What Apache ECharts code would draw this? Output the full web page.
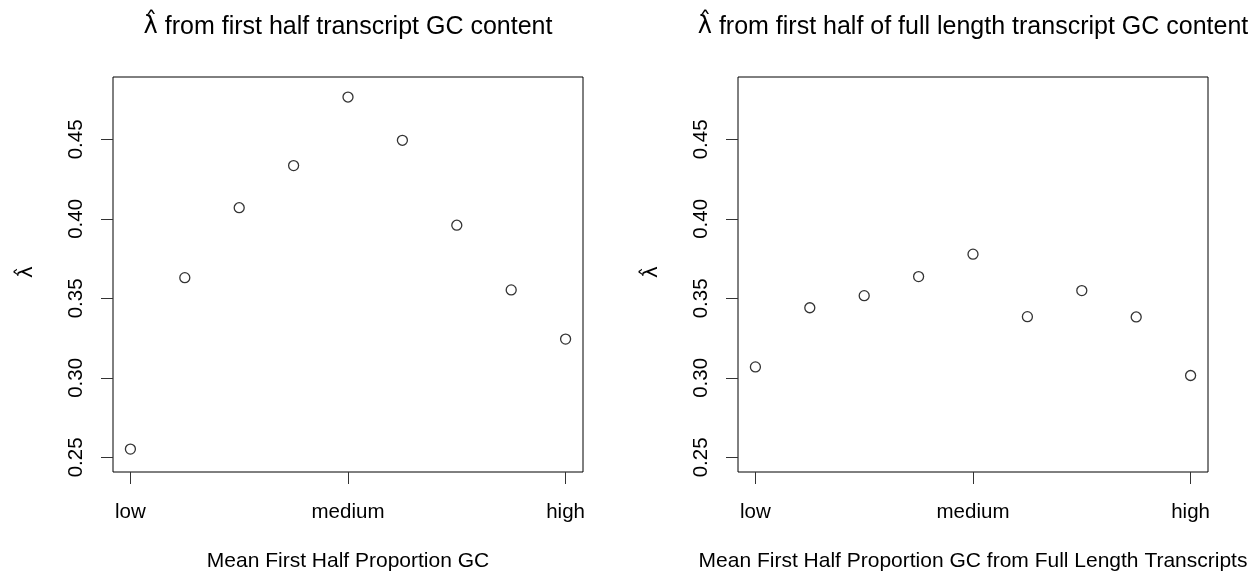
<!DOCTYPE html>
<html>
<head>
<meta charset="utf-8">
<script src="https://cdn.jsdelivr.net/npm/echarts@6/dist/echarts.min.js"></script>
<style>
  html, body { margin: 0; padding: 0; background: #fff; }
  #chart { width: 1260px; height: 574px; }
</style>
</head>
<body>
<div id="chart"></div>
<script>
// GC-content bins (1 = low ... 9 = high)
const bins = [1, 2, 3, 4, 5, 6, 7, 8, 9];
// Estimated lambda per bin, first half of transcript
const lambdaFirstHalf = [0.2552, 0.3630, 0.4070, 0.4335, 0.4766, 0.4494, 0.3960, 0.3553, 0.3244];
// Estimated lambda per bin, first half of full-length transcripts
const lambdaFullLength = [0.3069, 0.3441, 0.3517, 0.3637, 0.3778, 0.3385, 0.3549, 0.3383, 0.3015];
// Axis ticks
const xTickBins = [1, 5, 9];
const xTickLabels = ['low', 'medium', 'high'];
const yTicks = [0.25, 0.30, 0.35, 0.40, 0.45];
// Titles (lambda-hat is rendered separately so its hat glyph sits correctly)
const LHAT = 'λ̂';
const titleTails = [
  ' from first half transcript GC content',
  ' from first half of full length transcript GC content'
];
const xTitles = [
  'Mean First Half Proportion GC',
  'Mean First Half Proportion GC from Full Length Transcripts'
];

const FONT = '"Liberation Sans", Arial, Helvetica, sans-serif';
const MATH_FONT = '"DejaVu Sans", sans-serif';

// R-style axis padding: data range extended by 4% on each side
const xMin = 1 - 0.04 * 8, xMax = 9 + 0.04 * 8;
const yLo = 0.25, yHi = 0.48;
const yMin = yLo - 0.04 * (yHi - yLo), yMax = yHi + 0.04 * (yHi - yLo);

const panels = [
  { left: 113, data: lambdaFirstHalf },
  { left: 738, data: lambdaFullLength }
];
const W = 470, TOP = 77, H = 395;

const grids = [], xAxes = [], yAxes = [], series = [], graphics = [];

panels.forEach((p, i) => {
  grids.push({
    left: p.left, top: TOP, width: W, height: H,
    show: true, borderColor: '#000', borderWidth: 1, backgroundColor: 'transparent'
  });
  xAxes.push({
    type: 'value', gridIndex: i, min: xMin, max: xMax,
    axisLine: { show: false },
    splitLine: { show: false },
    axisTick: { show: true, inside: false, length: 12, customValues: xTickBins,
                lineStyle: { color: '#333', width: 1 } },
    axisLabel: {
      show: true, customValues: xTickBins, margin: 30,
      fontFamily: FONT, fontSize: 20.5, color: '#000',
      formatter: v => xTickLabels[xTickBins.indexOf(Math.round(v))] || ''
    }
  });
  yAxes.push({
    type: 'value', gridIndex: i, min: yMin, max: yMax,
    axisLine: { show: false },
    splitLine: { show: false },
    axisTick: { show: true, inside: false, length: 12, customValues: yTicks,
                lineStyle: { color: '#333', width: 1 } },
    axisLabel: {
      show: true, customValues: yTicks, rotate: 90, margin: 26,
      fontFamily: FONT, fontSize: 20.5, color: '#000',
      formatter: v => v.toFixed(2)
    }
  });
  series.push({
    type: 'scatter', xAxisIndex: i, yAxisIndex: i,
    data: bins.map((b, k) => [b, p.data[k]]),
    symbol: 'circle', symbolSize: 10,
    itemStyle: { color: '#fff', borderColor: '#000', borderWidth: 1.3 },
    emphasis: { disabled: true },
    silent: true
  });
  const cx = p.left + W / 2;
  graphics.push({
    type: 'text', x: cx, y: 27,
    style: {
      text: '{m|' + LHAT + '}{t|' + titleTails[i] + '}',
      textAlign: 'center', textVerticalAlign: 'middle', fill: '#000',
      rich: {
        m: { fontFamily: MATH_FONT, fontSize: 24, fill: '#000' },
        t: { fontFamily: FONT, fontSize: 25, fill: '#000' }
      }
    }
  });
  graphics.push({
    type: 'text', x: cx, y: 561,
    style: { text: xTitles[i], font: '21px ' + FONT, fill: '#000',
             textAlign: 'center', textVerticalAlign: 'middle' }
  });
  graphics.push({
    type: 'text', x: p.left - 86, y: 272, rotation: Math.PI / 2,
    style: { text: LHAT, font: '20px ' + MATH_FONT, fill: '#000',
             textAlign: 'center', textVerticalAlign: 'middle' }
  });
});

const chart = echarts.init(document.getElementById('chart'), null, { renderer: 'canvas' });
chart.setOption({
  animation: false,
  backgroundColor: '#fff',
  grid: grids,
  xAxis: xAxes,
  yAxis: yAxes,
  series: series,
  graphic: graphics
});
</script>
</body>
</html>
